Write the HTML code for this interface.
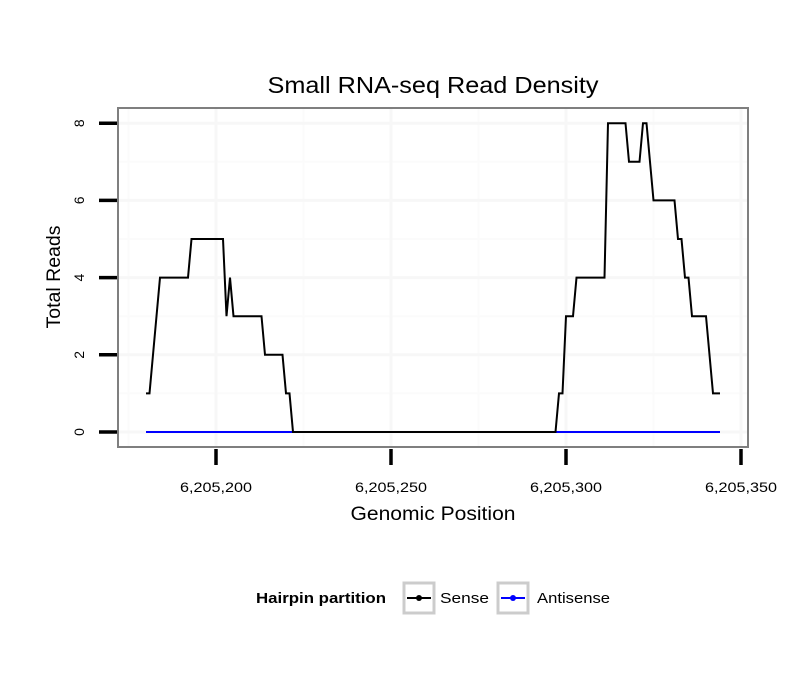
<!DOCTYPE html>
<html><head><meta charset="utf-8"><style>
body{margin:0;background:#fff;}
svg{display:block;font-family:"Liberation Sans",sans-serif;}
</style></head><body>
<svg id="chart" width="810" height="690" viewBox="0 0 810 690">
<rect width="810" height="690" fill="#fff"/>
<text x="433" y="93" font-size="23" text-anchor="middle" textLength="331" lengthAdjust="spacingAndGlyphs">Small RNA-seq Read Density</text>
<g id="grid"></g>
<g id="series"></g>
<rect x="118" y="108" width="630" height="339" fill="none" stroke="#7f7f7f" stroke-width="2"/>
<g id="axes"></g>
<text x="433" y="520" font-size="19" text-anchor="middle" textLength="165" lengthAdjust="spacingAndGlyphs">Genomic Position</text>
<text transform="translate(60,277) rotate(-90)" font-size="19" text-anchor="middle" textLength="103" lengthAdjust="spacingAndGlyphs">Total Reads</text>
<g>
<text x="256" y="603" font-size="15" font-weight="bold" textLength="130" lengthAdjust="spacingAndGlyphs">Hairpin partition</text>
<g>
<rect x="404" y="583" width="30" height="30" fill="#fff" stroke="#cccccc" stroke-width="3"/>
<line x1="407" y1="598" x2="431" y2="598" stroke="#000" stroke-width="2"/>
<circle cx="419" cy="598" r="3" fill="#000"/>
<text x="440" y="603" font-size="15" textLength="49" lengthAdjust="spacingAndGlyphs">Sense</text>
</g>
<g>
<rect x="498" y="583" width="30" height="30" fill="#fff" stroke="#cccccc" stroke-width="3"/>
<line x1="501" y1="598" x2="525" y2="598" stroke="#0000ff" stroke-width="2"/>
<circle cx="513" cy="598" r="3" fill="#0000ff"/>
<text x="537" y="603" font-size="15" textLength="73" lengthAdjust="spacingAndGlyphs">Antisense</text>
</g>
</g>
</svg>
<script>
const positions = [6205180,6205181,6205182,6205183,6205184,6205192,6205193,6205202,6205203,6205204,6205205,6205213,6205214,6205219,6205220,6205221,6205222,6205297,6205298,6205299,6205300,6205302,6205303,6205311,6205312,6205317,6205318,6205321,6205322,6205323,6205324,6205325,6205331,6205332,6205333,6205334,6205335,6205336,6205340,6205341,6205342,6205344];
const senseReads = [1,1,2,3,4,4,5,5,3,4,3,3,2,2,1,1,0,0,1,1,3,3,4,4,8,8,7,7,8,8,7,6,6,5,5,4,4,3,3,2,1,1];
const antisensePositions = [6205180,6205344];
const antisenseReads = [0,0];
const xTicks = [6205200,6205250,6205300,6205350];
const xTickLabels = ["6,205,200","6,205,250","6,205,300","6,205,350"];
const xMinor = [6205175,6205225,6205275,6205325];
const yTicks = [0,2,4,6,8];
const yMinor = [1,3,5,7];

const NS="http://www.w3.org/2000/svg";
function X(v){return 216+(v-6205200)*3.5;}
function Y(v){return 432-v*38.6;}
function mk(tag,attrs,parent){const e=document.createElementNS(NS,tag);for(const k in attrs)e.setAttribute(k,attrs[k]);parent.appendChild(e);return e;}
const grid=document.getElementById('grid'),series=document.getElementById('series'),axes=document.getElementById('axes');
mk('rect',{x:118,y:108,width:630,height:339,fill:'#fff'},grid);
xMinor.forEach(v=>{const l=mk('line',{x1:X(v),x2:X(v),y1:108,y2:447,stroke:'#fbfbfb','stroke-width':2},grid);

});
yMinor.forEach(v=>{const l=mk('line',{x1:118,x2:748,y1:Y(v),y2:Y(v),stroke:'#fbfbfb','stroke-width':2},grid);

});
xTicks.forEach((v,i)=>{
 if(X(v)<748){const g=mk('line',{x1:X(v),x2:X(v),y1:108,y2:447,stroke:'#f7f7f7','stroke-width':3},grid);
 
 }
 const t=mk('line',{x1:X(v),x2:X(v),y1:449,y2:465,stroke:'#000','stroke-width':3.5},axes);
 
 
 const tx=mk('text',{x:X(v),y:492,'font-size':14,'text-anchor':'middle',textLength:72,lengthAdjust:'spacingAndGlyphs'},axes);tx.textContent=xTickLabels[i];
 
 
});
yTicks.forEach(v=>{
 const g=mk('line',{x1:118,x2:748,y1:Y(v),y2:Y(v),stroke:'#f7f7f7','stroke-width':3},grid);
 
 
 const t=mk('line',{x1:99,x2:117,y1:Y(v),y2:Y(v),stroke:'#000','stroke-width':3.5},axes);
 
 
 const tx=mk('text',{transform:`translate(84,${Y(v)}) rotate(-90)`,'font-size':14,'text-anchor':'middle'},axes);tx.textContent=String(v);
 
 
});
const ap=mk('polyline',{points:antisensePositions.map((p,i)=>X(p)+','+Y(antisenseReads[i])).join(' '),fill:'none',stroke:'#0000ff','stroke-width':2},series);


const sp=mk('polyline',{points:positions.map((p,i)=>X(p)+','+Y(senseReads[i])).join(' '),fill:'none',stroke:'#000','stroke-width':2},series);


</script>
</body></html>
